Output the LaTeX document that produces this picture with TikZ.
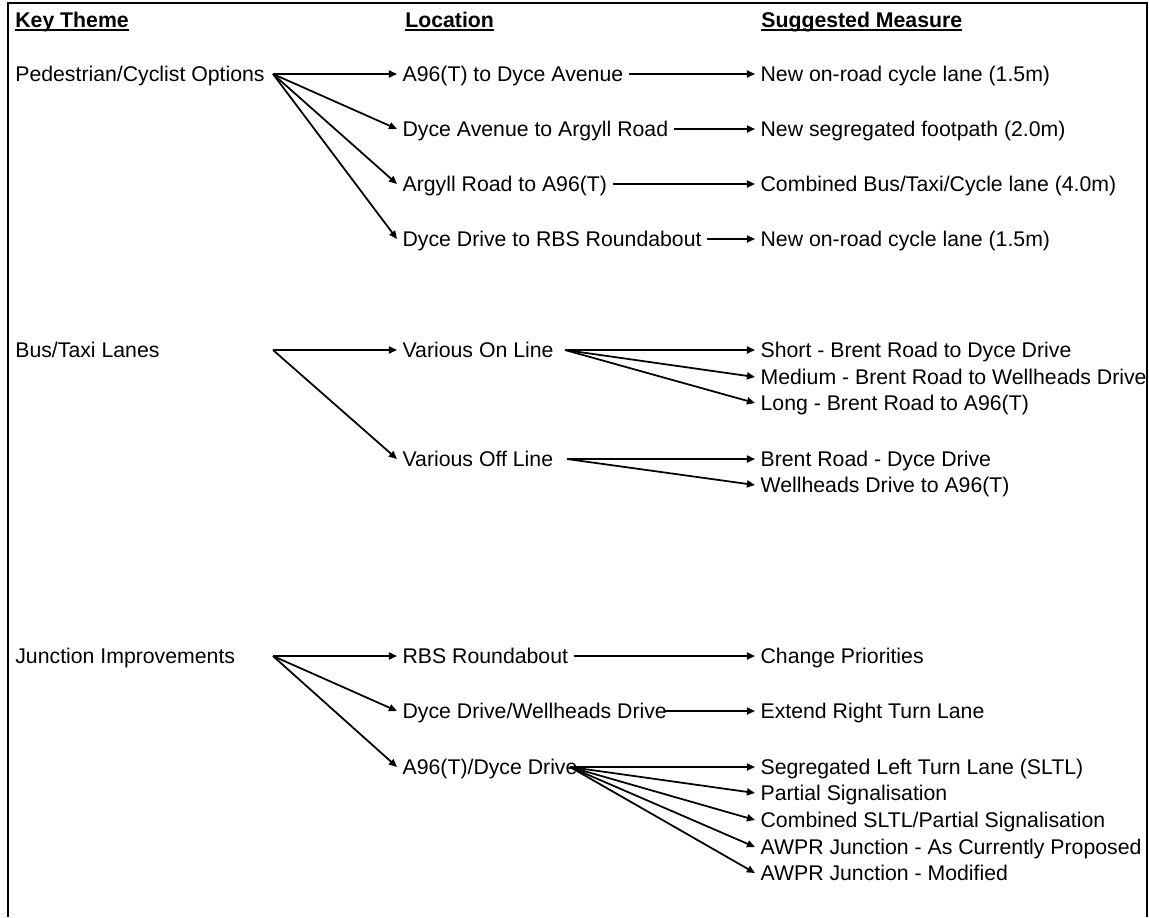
\documentclass[tikz,border=0pt]{standalone}
\usepackage{fontspec}
\setmainfont{Liberation Sans}
\usetikzlibrary{arrows.meta}

\newcommand{\headul}[1]{\setbox0\hbox{#1}\rlap{\rule[-2.2pt]{\wd0}{1.1pt}}\box0}

\begin{document}
\begin{tikzpicture}[x=0.02cm,y=-0.02cm,
  font=\fontsize{12.1}{14}\selectfont,
  txt/.style={anchor=west,inner sep=0pt,text height=8.6pt,text depth=0pt},
  loc/.style={txt,inner xsep=3pt},
  head/.style={txt,font=\fontsize{12.1}{14}\selectfont\bfseries},
  arr/.style={line width=1pt,-{Triangle[length=4.6pt,width=4pt]}},
  frame/.style={line width=1.2pt}]
  \useasboundingbox (0,0) rectangle (1149,917);
  \draw[frame] (8,917) -- (8,3) -- (1147,3) -- (1147,917);

  % headings
  \node[head] (hkey) at (15,20) {\headul{Key Theme}};
  \node[head] (hloc) at (405,20) {\headul{Location}};
  \node[head] (hmeas) at (761,20) {\headul{Suggested Measure}};

  % key themes
  \node[txt] (ped) at (15,74) {Pedestrian/Cyclist Options};
  \node[txt] (bus) at (15,350) {Bus/Taxi Lanes};
  \node[txt] (junc) at (15,656) {Junction Improvements};
  \coordinate (pedo) at (273,74);
  \coordinate (buso) at (273,350);
  \coordinate (junco) at (273,656);

  % locations
  \node[loc] (l1) at (397,74) {A96(T) to Dyce Avenue};
  \node[loc] (l2) at (397,129) {Dyce Avenue to Argyll Road};
  \node[loc] (l3) at (397,184) {Argyll Road to A96(T)};
  \node[loc] (l4) at (397,239) {Dyce Drive to RBS Roundabout};
  \node[loc] (lon) at (397,350) {Various On Line};
  \node[loc] (loff) at (397,459) {Various Off Line};
  \node[loc] (lrbs) at (397,656) {RBS Roundabout};
  \node[loc] (ldw) at (397,711) {Dyce Drive/Wellheads Drive};
  \node[loc] (la96) at (397,767) {A96(T)/Dyce Drive};
  \coordinate (onf) at (565,350);
  \coordinate (offf) at (567,459);
  \coordinate (a96f) at (570,767);

  % measures
  \node[loc] (m1) at (755,74) {New on-road cycle lane (1.5m)};
  \node[loc] (m2) at (755,129) {New segregated footpath (2.0m)};
  \node[loc] (m3) at (755,184) {Combined Bus/Taxi/Cycle lane (4.0m)};
  \node[loc] (m4) at (755,239) {New on-road cycle lane (1.5m)};
  \node[loc] (m5) at (755,350) {Short - Brent Road to Dyce Drive};
  \node[loc] (m6) at (755,377) {Medium - Brent Road to Wellheads Drive};
  \node[loc] (m7) at (755,403) {Long - Brent Road to A96(T)};
  \node[loc] (m8) at (755,459) {Brent Road - Dyce Drive};
  \node[loc] (m9) at (755,485) {Wellheads Drive to A96(T)};
  \node[loc] (m10) at (755,656) {Change Priorities};
  \node[loc] (m11) at (755,711) {Extend Right Turn Lane};
  \node[loc] (m12) at (755,767) {Segregated Left Turn Lane (SLTL)};
  \node[loc] (m13) at (755,793) {Partial Signalisation};
  \node[loc] (m14) at (755,820) {Combined SLTL/Partial Signalisation};
  \node[loc] (m15) at (755,847) {AWPR Junction - As Currently Proposed};
  \node[loc] (m16) at (755,873) {AWPR Junction - Modified};

  % theme to location
  \draw[arr] (pedo) -- (l1.west);
  \draw[arr] (pedo) -- (l2.west);
  \draw[arr] (pedo) -- (l3.west);
  \draw[arr] (pedo) -- (l4.west);
  \draw[arr] (buso) -- (lon.west);
  \draw[arr] (buso) -- (loff.west);
  \draw[arr] (junco) -- (lrbs.west);
  \draw[arr] (junco) -- (ldw.west);
  \draw[arr] (junco) -- (la96.west);

  % location to measure
  \draw[arr] (l1.east) -- (m1.west);
  \draw[arr] (l2.east) -- (m2.west);
  \draw[arr] (l3.east) -- (m3.west);
  \draw[arr] (l4.east) -- (m4.west);
  \draw[arr] (onf) -- (m5.west);
  \draw[arr] (onf) -- (m6.west);
  \draw[arr] (onf) -- (m7.west);
  \draw[arr] (offf) -- (m8.west);
  \draw[arr] (offf) -- (m9.west);
  \draw[arr] (lrbs.east) -- (m10.west);
  \draw[arr] ([xshift=-5pt]ldw.east) -- (m11.west);
  \draw[arr] (a96f) -- (m12.west);
  \draw[arr] (a96f) -- (m13.west);
  \draw[arr] (a96f) -- (m14.west);
  \draw[arr] (a96f) -- (m15.west);
  \draw[arr] (a96f) -- (m16.west);
\end{tikzpicture}
\end{document}
